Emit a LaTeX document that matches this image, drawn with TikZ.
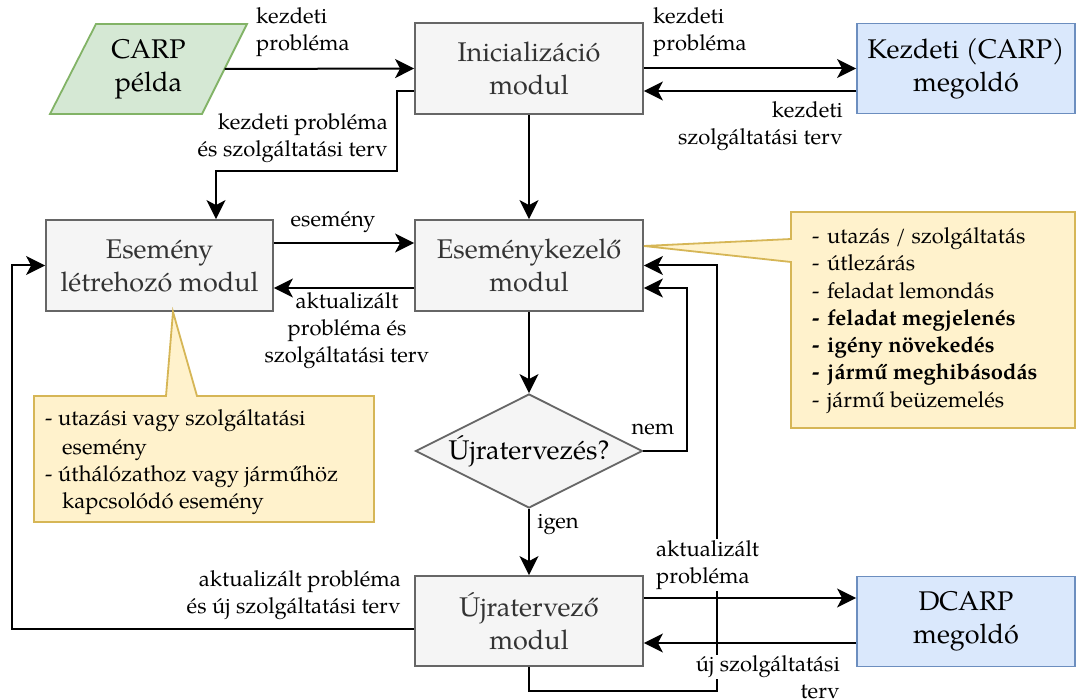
\documentclass[tikz,border=0pt]{standalone}
\usepackage{fontspec}
\setmainfont{TeX Gyre Pagella}
\usetikzlibrary{arrows.meta,shapes.geometric,calc}
\definecolor{grayfill}{HTML}{F5F5F5}
\definecolor{graystroke}{HTML}{666666}
\definecolor{graytext}{HTML}{333333}
\definecolor{greenfill}{HTML}{D5E8D4}
\definecolor{greenstroke}{HTML}{82B366}
\definecolor{bluefill}{HTML}{DAE8FC}
\definecolor{bluestroke}{HTML}{6C8EBF}
\definecolor{notefill}{HTML}{FFF2CC}
\definecolor{notestroke}{HTML}{D6B656}
\newcommand\bxfont{\fontsize{27}{33}\selectfont}
\newcommand\lbfont{\fontsize{22}{27}\selectfont}
\begin{document}
\begin{tikzpicture}[x=1pt,y=-1pt,
  module/.style={draw=graystroke, fill=grayfill, line width=1.8pt, text=graytext,
    minimum width=228pt, minimum height=91pt, align=center, inner sep=0pt, font=\bxfont},
  solver/.style={draw=bluestroke, fill=bluefill, line width=1.8pt,
    minimum width=218pt, minimum height=90pt, align=center, inner sep=0pt, font=\bxfont},
  decision/.style={diamond, draw=graystroke, fill=grayfill, line width=1.8pt,
    minimum width=227pt, minimum height=114pt, inner sep=0pt},
  arr/.style={line width=2pt, -{Stealth[length=19pt,width=19pt,inset=5pt]}},
  note/.style={draw=notestroke, fill=notefill, line width=1.8pt},
  lbl/.style={font=\lbfont, inner sep=0pt},
  item/.style={font=\lbfont, inner sep=0pt, anchor=base west},
]
\fill[white] (0,0) rectangle (1076,700);
\useasboundingbox (0,0) rectangle (1076,700);

% input instance
\draw[draw=greenstroke, fill=greenfill, line width=1.8pt]
  (96,24) -- (247,24) -- (202,114) -- (50,114) -- cycle;
\node[font=\bxfont, align=center, inner sep=0pt] (carp) at (148.5,69) {CARP\\példa};
\coordinate (carpR) at (224.5,69);

% modules
\node[module] (init) at (529,68.5) {Inicializáció\\modul};
\node[solver] (kezd) at (966,68.5) {Kezdeti (CARP)\\megoldó};
\node[module, minimum width=227pt] (evgen) at (159.5,265.5) {Esemény\\létrehozó modul};
\node[module] (evh) at (529,265.5) {Eseménykezelő\\modul};
\node[decision] (dia) at (529,451) {};
\node[font=\bxfont, inner sep=0pt] (diatext) at (dia.center) {Újratervezés?};
\node[module, minimum height=90pt] (replan) at (529,621) {Újratervező\\modul};
\node[solver] (dcarp) at (966,621.5) {DCARP\\megoldó};

% connectors
\draw[arr] (carpR) -- (init.west);
\draw[arr] (init.east) -- (kezd.west);
\draw[arr] ([yshift=-22.5pt]kezd.west) -- ([yshift=-22.5pt]init.east);
\draw[arr] (init.south) -- (evh.north);
\draw[arr] ([yshift=-22.5pt]init.west) -| (397,171) -| ([xshift=56.5pt]evgen.north);
\draw[arr] ([yshift=22.5pt]evgen.east) -- ([yshift=22.5pt]evh.west);
\draw[arr] ([yshift=-22.5pt]evh.west) -- ([yshift=-22.5pt]evgen.east);
\draw[arr] (evh.south) -- (dia.north);
\draw[arr] (dia.east) -| (687,300) |- ([yshift=-22.5pt]evh.east);
\draw[arr] (dia.south) -- (replan.north);
\draw[arr] ([yshift=23pt]replan.east) -- ([yshift=23pt]replan.east -| dcarp.west);
\draw[arr] ([yshift=-22pt]replan.east -| dcarp.west) -- ([yshift=-22pt]replan.east);
\draw[arr] (replan.south) |- (717,691) |- (evh.east);
\draw[arr] ([yshift=-8pt]replan.west) -| (12,400) |- (evgen.west);

% connector labels
\node[lbl, align=left, anchor=west] (l1) at (256,32.5) {kezdeti\\probléma};
\node[lbl, align=left, anchor=west] (l2) at (653,32.5) {kezdeti\\probléma};
\node[lbl, align=right, anchor=east] (l3) at (843,126.5) {kezdeti\\szolgáltatási terv};
\node[lbl, align=right, anchor=east] (l4) at (388,138.5) {kezdeti probléma\\és szolgáltatási terv};
\node[lbl] (l5) at (333,222) {esemény};
\node[lbl, align=center] (l6) at (347,331) {aktualizált\\probléma és\\szolgáltatási terv};
\node[lbl] (l7) at (653,430) {nem};
\node[lbl] (l8) at (558,525) {igen};
\node[lbl, align=right, anchor=east] (l9) at (401,595) {aktualizált probléma\\és új szolgáltatási terv};
\node[lbl, align=left, anchor=west, fill=white, inner sep=1pt] (l10) at (655,565) {aktualizált\\probléma};
\node[lbl, anchor=east, fill=white, inner sep=1pt] (l11) at (841,667) {új szolgáltatási};
\node[lbl, anchor=east] (l12) at (840,692) {terv};

% note on the event generator
\draw[note] (34,396) -- (166,396) -- ([xshift=13.5pt]evgen.south) -- (197,396)
  -- (374,396) -- (374,522) -- (34,522) -- cycle;
\node[item] (n1) at (45,425) {- utazási vagy szolgáltatási};
\node[item] (n2) at (62,454) {esemény};
\node[item] (n3) at (45,481) {- úthálózathoz vagy járműhöz};
\node[item] (n4) at (62,508) {kapcsolódó esemény};

% note on the event handler
\draw[note] (791,212) -- (1075,212) -- (1075,428) -- (791,428) -- (791,262)
  -- ([yshift=19.5pt]evh.east) -- (791,239) -- cycle;
\node[item] (e1) at (812,244) {\makebox[15pt][l]{-}utazás / szolgáltatás};
\node[item] (e2) at (812,271) {\makebox[15pt][l]{-}útlezárás};
\node[item] (e3) at (812,299) {\makebox[15pt][l]{-}feladat lemondás};
\node[item] (e4) at (812,326) {\bfseries\makebox[15pt][l]{-}feladat megjelenés};
\node[item] (e5) at (812,353) {\bfseries\makebox[15pt][l]{-}igény növekedés};
\node[item] (e6) at (812,380) {\bfseries\makebox[15pt][l]{-}jármű meghibásodás};
\node[item] (e7) at (812,407) {\makebox[15pt][l]{-}jármű beüzemelés};
\end{tikzpicture}
\end{document}
